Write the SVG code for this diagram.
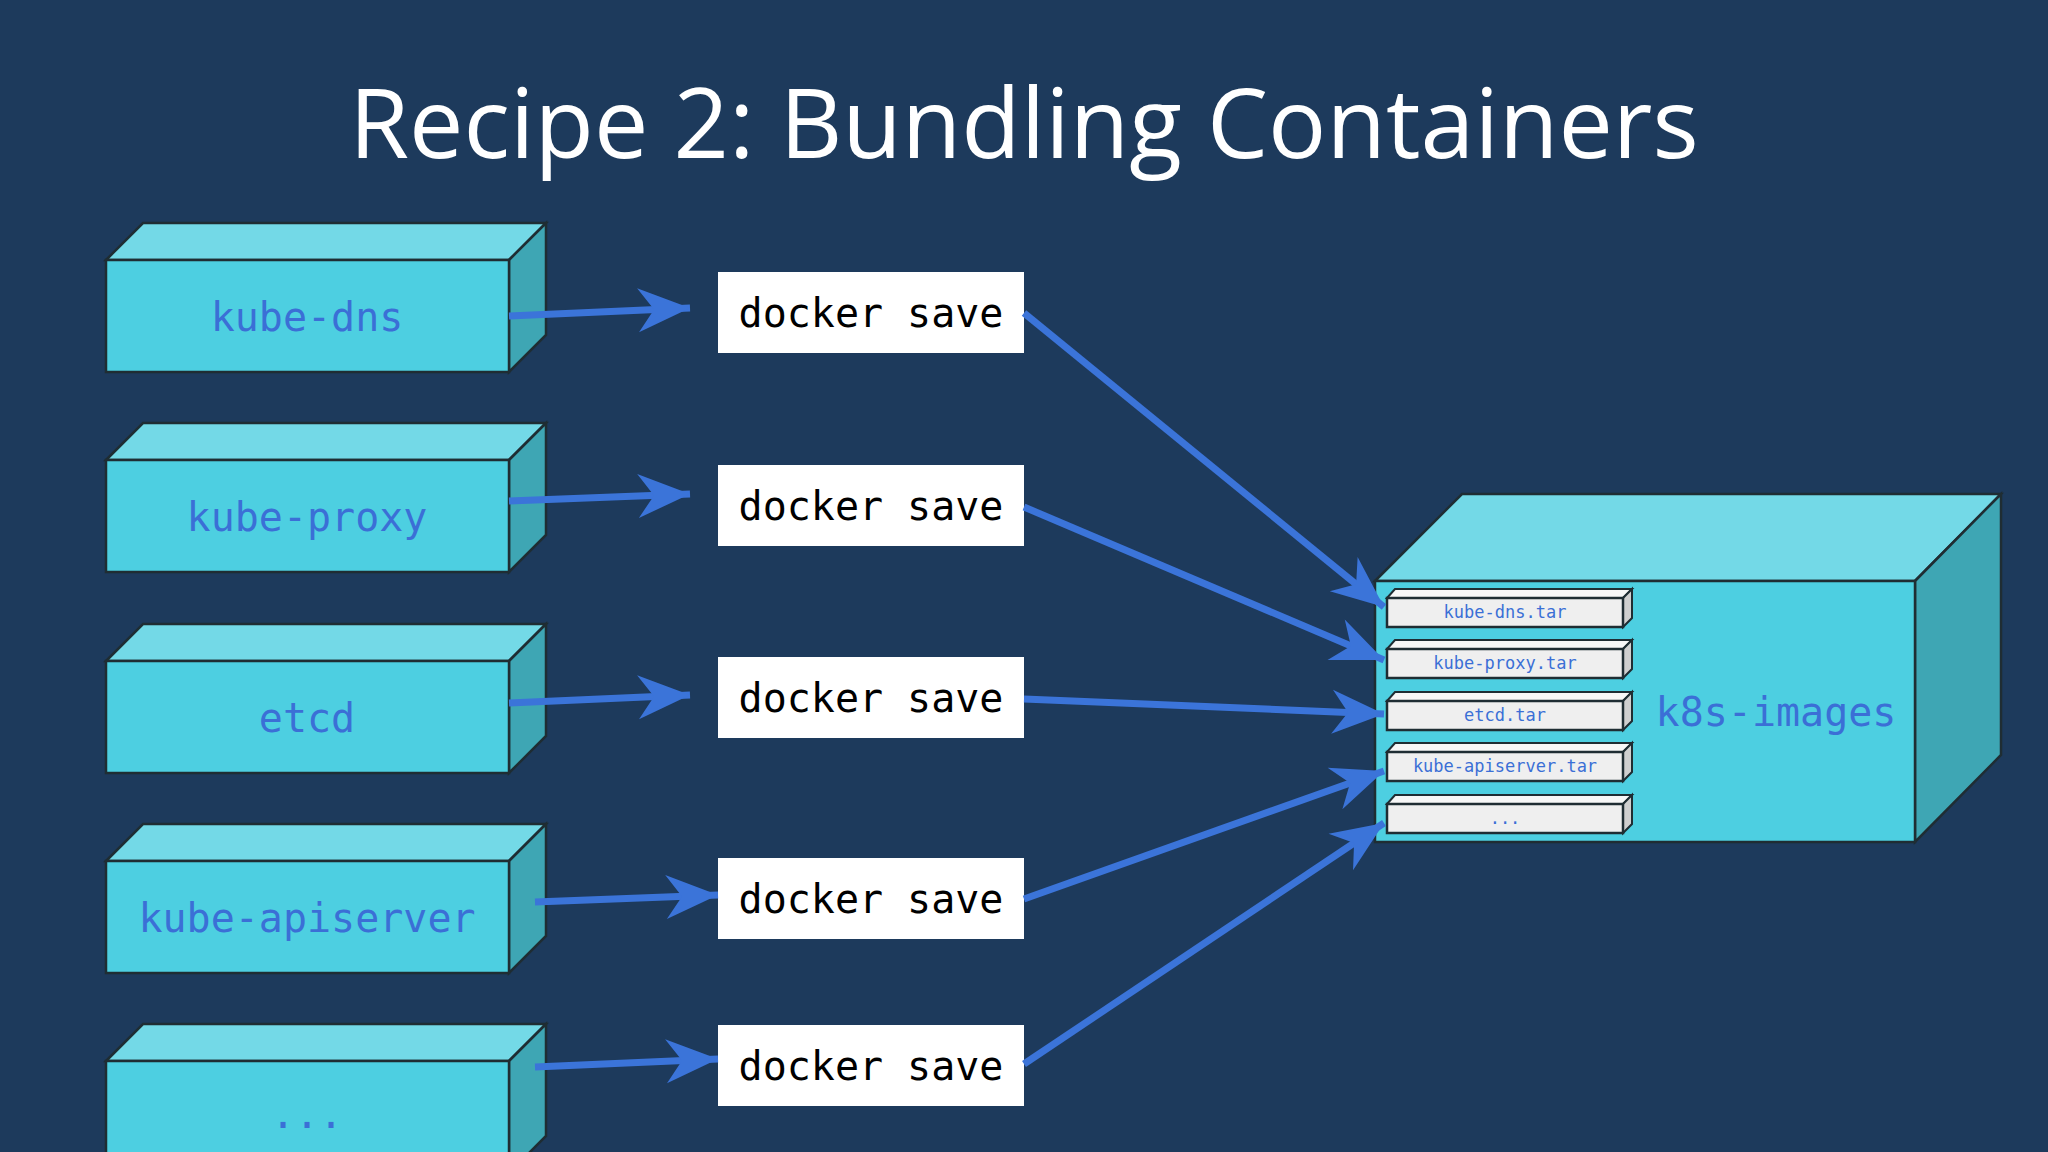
<svg xmlns="http://www.w3.org/2000/svg" width="2048" height="1152" viewBox="0 0 2048 1152">
<style>
.front{fill:#4dcfe1;stroke:#1f2d33;stroke-width:2.5}
.top{fill:#73d9e7;stroke:#1f2d33;stroke-width:2.5}
.side{fill:#3ea6b4;stroke:#1f2d33;stroke-width:2.5}
.lbl{font-family:"DejaVu Sans Mono","Liberation Mono",monospace;fill:#3b6fd6;text-anchor:middle}
.ds{fill:#ffffff}
.dst{font-family:"DejaVu Sans Mono","Liberation Mono",monospace;font-size:40px;fill:#000;text-anchor:middle}
.tf{fill:#efefef;stroke:#1f2d33;stroke-width:2.5}
.tt{fill:#f7f7f7;stroke:#1f2d33;stroke-width:2}
.ts{fill:#cfcfcf;stroke:#1f2d33;stroke-width:2}
.conn{stroke:#3b74d9;stroke-width:7;fill:none;marker-end:url(#ah)}
</style>
<defs>
<marker id="ah" markerUnits="userSpaceOnUse" markerWidth="60" markerHeight="50" refX="54" refY="24" orient="auto">
<path d="M54,24 L2,2 L18,24 L2,46 Z" fill="#3b74d9"/>
</marker>
</defs>
<rect width="2048" height="1152" fill="#1d3a5c"/>
<text x="1024" y="158" font-family="'Open Sans','Lato',sans-serif" font-size="97" fill="#ffffff" text-anchor="middle">Recipe 2: Bundling Containers</text>

<g id="c-kube-dns"><polygon class="top" points="106,260 143,223 546,223 509,260"/><polygon class="side" points="509,260 546,223 546,335 509,372"/><rect class="front" x="106" y="260" width="403" height="112"/><text class="lbl" x="307" y="331" font-size="40">kube-dns</text></g>
<g id="c-kube-proxy"><polygon class="top" points="106,460 143,423 546,423 509,460"/><polygon class="side" points="509,460 546,423 546,535 509,572"/><rect class="front" x="106" y="460" width="403" height="112"/><text class="lbl" x="307" y="531" font-size="40">kube-proxy</text></g>
<g id="c-etcd"><polygon class="top" points="106,661 143,624 546,624 509,661"/><polygon class="side" points="509,661 546,624 546,736 509,773"/><rect class="front" x="106" y="661" width="403" height="112"/><text class="lbl" x="307" y="732" font-size="40">etcd</text></g>
<g id="c-kube-apiserver"><polygon class="top" points="106,861 143,824 546,824 509,861"/><polygon class="side" points="509,861 546,824 546,936 509,973"/><rect class="front" x="106" y="861" width="403" height="112"/><text class="lbl" x="307" y="932" font-size="40">kube-apiserver</text></g>
<g id="c-more"><polygon class="top" points="106,1061 143,1024 546,1024 509,1061"/><polygon class="side" points="509,1061 546,1024 546,1136 509,1173"/><rect class="front" x="106" y="1061" width="403" height="112"/><text class="lbl" x="307" y="1128" font-size="40">...</text></g>

<g id="ds1"><rect class="ds" x="718" y="272" width="306" height="81"/><text class="dst" x="871" y="327">docker save</text></g>
<g id="ds2"><rect class="ds" x="718" y="465" width="306" height="81"/><text class="dst" x="871" y="520">docker save</text></g>
<g id="ds3"><rect class="ds" x="718" y="657" width="306" height="81"/><text class="dst" x="871" y="712">docker save</text></g>
<g id="ds4"><rect class="ds" x="718" y="858" width="306" height="81"/><text class="dst" x="871" y="913">docker save</text></g>
<g id="ds5"><rect class="ds" x="718" y="1025" width="306" height="81"/><text class="dst" x="871" y="1080">docker save</text></g>

<g id="k8s-images">
<polygon class="top" points="1375,581 1462,494 2001,494 1915,581"/>
<polygon class="side" points="1915,581 2001,494 2001,755 1915,842"/>
<rect class="front" x="1375" y="581" width="540" height="261"/>
<text class="lbl" x="1776" y="726" font-size="40">k8s-images</text>
<g id="t1"><polygon class="tt" points="1387,598 1395,589 1632,589 1623,598"/><polygon class="ts" points="1623,598 1632,589 1632,618 1623,627"/><rect class="tf" x="1387" y="598" width="236" height="29"/><text class="lbl" x="1505" y="618" font-size="17">kube-dns.tar</text></g>
<g id="t2"><polygon class="tt" points="1387,649 1395,640 1632,640 1623,649"/><polygon class="ts" points="1623,649 1632,640 1632,669 1623,678"/><rect class="tf" x="1387" y="649" width="236" height="29"/><text class="lbl" x="1505" y="669" font-size="17">kube-proxy.tar</text></g>
<g id="t3"><polygon class="tt" points="1387,701 1395,692 1632,692 1623,701"/><polygon class="ts" points="1623,701 1632,692 1632,721 1623,730"/><rect class="tf" x="1387" y="701" width="236" height="29"/><text class="lbl" x="1505" y="721" font-size="17">etcd.tar</text></g>
<g id="t4"><polygon class="tt" points="1387,752 1395,743 1632,743 1623,752"/><polygon class="ts" points="1623,752 1632,743 1632,772 1623,781"/><rect class="tf" x="1387" y="752" width="236" height="29"/><text class="lbl" x="1505" y="772" font-size="17">kube-apiserver.tar</text></g>
<g id="t5"><polygon class="tt" points="1387,804 1395,795 1632,795 1623,804"/><polygon class="ts" points="1623,804 1632,795 1632,824 1623,833"/><rect class="tf" x="1387" y="804" width="236" height="29"/><text class="lbl" x="1505" y="824" font-size="17">...</text></g>
</g>

<g id="connectors">
<line class="conn" x1="509" y1="316" x2="690" y2="308"/>
<line class="conn" x1="509" y1="501" x2="690" y2="494"/>
<line class="conn" x1="509" y1="703" x2="690" y2="695"/>
<line class="conn" x1="535" y1="902" x2="718" y2="895"/>
<line class="conn" x1="535" y1="1067" x2="718" y2="1059"/>
<line class="conn" x1="1024" y1="313" x2="1384" y2="607"/>
<line class="conn" x1="1024" y1="507" x2="1384" y2="660"/>
<line class="conn" x1="1024" y1="699" x2="1384" y2="714"/>
<line class="conn" x1="1024" y1="899" x2="1384" y2="771"/>
<line class="conn" x1="1024" y1="1064" x2="1384" y2="823"/>
</g>
</svg>
